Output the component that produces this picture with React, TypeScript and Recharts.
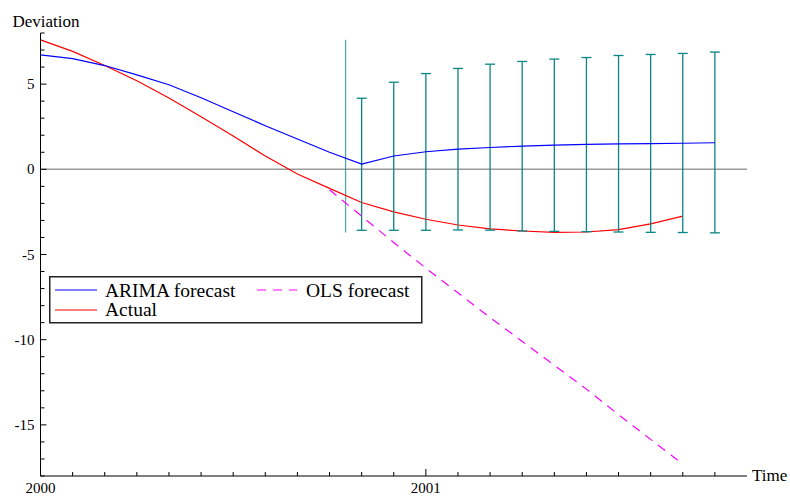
import {
  ErrorBar,
  Label,
  Legend,
  Line,
  LineChart,
  ReferenceLine,
  XAxis,
  YAxis,
} from "recharts";

// months since 2000-01
const months = [0, 1, 2, 3, 4, 5, 6, 7, 8, 9, 10, 11, 12, 13, 14, 15, 16, 17, 18, 19, 20, 21];

const arimaForecast = [
  6.72, 6.5, 6.09, 5.54, 4.96, 4.2, 3.38, 2.56, 1.78, 1.0, 0.31, 0.78, 1.03, 1.18, 1.28, 1.36,
  1.42, 1.46, 1.49, 1.51, 1.53, 1.56,
];

const actual = [
  7.6, 6.92, 6.09, 5.2, 4.18, 3.08, 1.95, 0.78, -0.28, -1.12, -1.95, -2.5, -2.93, -3.27, -3.5,
  -3.62, -3.7, -3.68, -3.54, -3.2, -2.75,
];

// OLS forecast runs from month 9 to month 20
const olsStart = 9;
const olsForecast = [-1.2, -2.75, -4.3, -5.8, -7.25, -8.7, -10.1, -11.5, -12.9, -14.4, -15.85, -17.3];

// ARIMA forecast bands from month 10 to month 21
const bandStart = 10;
const bandLow = [-3.58, -3.58, -3.58, -3.56, -3.57, -3.62, -3.64, -3.66, -3.68, -3.7, -3.71, -3.73];
const bandHigh = [4.17, 5.11, 5.62, 5.92, 6.17, 6.33, 6.47, 6.56, 6.68, 6.74, 6.8, 6.88];

// forecast origin marker: month, low, high
const originMark = [9.5, -3.71, 7.6];

const xTickLabels: Record<number, string> = { 0: "2000", 12: "2001" };
const yTicks = [-18, -17, -16, -15, -14, -13, -12, -11, -10, -9, -8, -7, -6, -5, -4, -3, -2, -1, 0, 1, 2, 3, 4, 5, 6, 7, 8];
const yTickLabels = [-15, -10, -5, 0, 5];

const BLUE = "#0000ff";
const RED = "#ff0000";
const MAGENTA = "#ff00ff";
const TEAL = "#0b8585";
const FONT = "'Liberation Serif', 'DejaVu Serif', serif";

const data = months.map((m, i) => {
  const b = i - bandStart;
  const o = i - olsStart;
  return {
    m,
    arima: arimaForecast[i],
    actual: i < actual.length ? actual[i] : null,
    ols: o >= 0 && o < olsForecast.length ? olsForecast[o] : null,
    err:
      b >= 0 && b < bandLow.length
        ? [arimaForecast[i] - bandLow[b], bandHigh[b] - arimaForecast[i]]
        : null,
  };
});

function XTick(props: any) {
  const { x, y, payload } = props;
  const label = xTickLabels[payload.value];
  return (
    <g>
      <line x1={x} x2={x} y1={y} y2={y - (label ? 7 : 4)} stroke="#000" />
      {label && (
        <text x={x} y={y + 17} textAnchor="middle" fontSize={15} fontFamily={FONT} fill="#000">
          {label}
        </text>
      )}
    </g>
  );
}

function YTick(props: any) {
  const { x, y, payload } = props;
  const major = yTickLabels.includes(payload.value);
  return (
    <g>
      <line x1={x} x2={x + (major ? 6 : 4)} y1={y} y2={y} stroke="#000" />
      {major && (
        <text x={x - 6} y={y + 5} textAnchor="end" fontSize={15} fontFamily={FONT} fill="#000">
          {payload.value}
        </text>
      )}
    </g>
  );
}

function LegendBox() {
  return (
    <svg width={374} height={48} style={{ display: "block" }}>
      <rect x={0.75} y={0.75} width={372} height={46} fill="#fff" stroke="#222" strokeWidth={1.5} />
      <line x1={6} x2={48} y1={14} y2={14} stroke={BLUE} strokeWidth={1.2} />
      <text x={56} y={20.5} fontSize={19.5} fontFamily={FONT} fill="#000">
        ARIMA forecast
      </text>
      <line x1={208} x2={248} y1={14} y2={14} stroke={MAGENTA} strokeWidth={1.2} strokeDasharray="9 7" />
      <text x={257} y={20.5} fontSize={19.5} fontFamily={FONT} fill="#000">
        OLS forecast
      </text>
      <line x1={6} x2={48} y1={34} y2={34} stroke={RED} strokeWidth={1.2} />
      <text x={56} y={40} fontSize={19.5} fontFamily={FONT} fill="#000">
        Actual
      </text>
    </svg>
  );
}

export default function App() {
  return (
    <div style={{ position: "absolute", left: 0, top: 0, background: "#fff" }}>
      <LineChart
        width={790}
        height={498}
        data={data}
        margin={{ top: 33, right: 43, bottom: 0, left: 0 }}
        style={{ fontFamily: FONT }}
      >
        <XAxis
          dataKey="m"
          type="number"
          domain={[0, 22]}
          ticks={months}
          interval={0}
          tickSize={0}
          tickMargin={0}
          tickLine={false}
          tick={<XTick />}
          height={22}
          axisLine={{ stroke: "#000" }}
        >
          <Label
            content={(p: any) => (
              <text
                x={p.viewBox.x + p.viewBox.width + 5}
                y={p.viewBox.y + 5}
                fontSize={17}
                fontFamily={FONT}
                fill="#000"
              >
                Time
              </text>
            )}
          />
        </XAxis>
        <YAxis
          type="number"
          domain={[-18, 8]}
          ticks={yTicks}
          interval={0}
          tickSize={0}
          tickMargin={0}
          tickLine={false}
          tick={<YTick />}
          width={40.5}
          axisLine={{ stroke: "#000" }}
        >
          <Label
            content={(p: any) => (
              <text x={p.viewBox.x + 12.5} y={p.viewBox.y - 6} fontSize={17} fontFamily={FONT} fill="#000">
                Deviation
              </text>
            )}
          />
        </YAxis>
        <ReferenceLine y={0} stroke="#9a9a9a" strokeWidth={1.4} />
        <ReferenceLine
          segment={[
            { x: originMark[0], y: originMark[1] },
            { x: originMark[0], y: originMark[2] },
          ]}
          stroke={TEAL}
          strokeWidth={1.3}
          strokeOpacity={0.7}
        />
        <Line
          dataKey="actual"
          stroke={RED}
          strokeWidth={1.2}
          dot={false}
          activeDot={false}
          isAnimationActive={false}
        />
        <Line
          dataKey="ols"
          stroke={MAGENTA}
          strokeWidth={1.2}
          strokeDasharray="9 7"
          dot={false}
          activeDot={false}
          isAnimationActive={false}
        />
        <Line
          dataKey="arima"
          stroke={BLUE}
          strokeWidth={1.2}
          dot={false}
          activeDot={false}
          isAnimationActive={false}
        >
          <ErrorBar dataKey="err" direction="y" width={5} stroke={TEAL} strokeWidth={1.3} isAnimationActive={false} />
        </Line>
        <Legend
          verticalAlign="middle"
          align="center"
          wrapperStyle={{ left: 49, top: 276, width: 374, height: 48 }}
          content={() => <LegendBox />}
        />
      </LineChart>
    </div>
  );
}
